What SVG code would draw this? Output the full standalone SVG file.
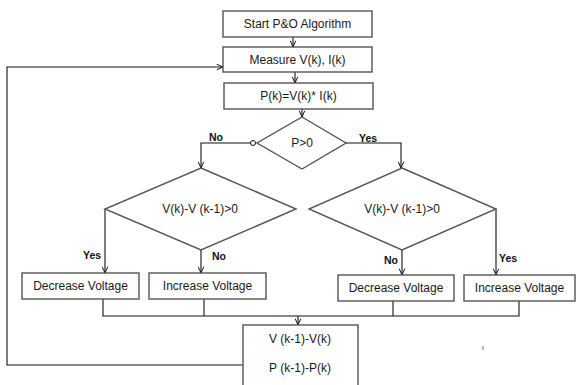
<svg xmlns="http://www.w3.org/2000/svg" width="576" height="385" viewBox="0 0 576 385">
<defs>
<marker id="arr" viewBox="0 0 10 10" refX="10" refY="5" markerWidth="7" markerHeight="7" markerUnits="userSpaceOnUse" orient="auto">
<path d="M1,1 L10,5 L1,9" fill="none" stroke="#111" stroke-width="1.4"/>
</marker>
<style>
.box{fill:#fff;stroke:#555;stroke-width:1.4}
.t{font-family:"Liberation Sans",Arial,sans-serif;font-size:12px;fill:#1a1a1a;text-anchor:middle}
.lb{font-family:"Liberation Sans",Arial,sans-serif;font-size:10.5px;font-weight:bold;fill:#111}
.ln{fill:none;stroke:#111;stroke-width:1.1}
</style>
</defs>
<rect width="576" height="385" fill="#fff"/>
<g id="connectors">
<line class="ln" x1="293" y1="37" x2="293" y2="47" marker-end="url(#arr)"/>
<line class="ln" x1="295" y1="72" x2="295" y2="83" marker-end="url(#arr)"/>
<line class="ln" x1="302" y1="109" x2="302" y2="117" marker-end="url(#arr)"/>
<polyline class="ln" points="251,143 201,143 201,168" marker-end="url(#arr)"/>
<polyline class="ln" points="346,143 401,143 401,168" marker-end="url(#arr)"/>
<line class="ln" x1="105" y1="209" x2="105" y2="273" marker-end="url(#arr)"/>
<line class="ln" x1="201" y1="250" x2="201" y2="273" marker-end="url(#arr)"/>
<line class="ln" x1="402" y1="250" x2="402" y2="275" marker-end="url(#arr)"/>
<line class="ln" x1="496" y1="209" x2="496" y2="275" marker-end="url(#arr)"/>
<polyline class="ln" points="103,299 103,316 519,316 519,301"/>
<line class="ln" x1="204" y1="299" x2="204" y2="316"/>
<line class="ln" x1="393" y1="301" x2="393" y2="316"/>
<line class="ln" x1="298" y1="316" x2="298" y2="325" marker-end="url(#arr)"/>
<polyline class="ln" points="243,365 7,365 7,67 223,67" marker-end="url(#arr)"/>
<circle cx="253" cy="143" r="2.5" fill="#fff" stroke="#111" stroke-width="1"/>
<text class="lb" x="209" y="141">No</text>
<text class="lb" x="359" y="142">Yes</text>
<text class="lb" x="83" y="259">Yes</text>
<text class="lb" x="212" y="260">No</text>
<text class="lb" x="384" y="264">No</text>
<text class="lb" x="499" y="262">Yes</text>
</g>
<g id="start"><rect class="box" x="223" y="11" width="149" height="26"/><text class="t" x="297.5" y="28">Start P&amp;O Algorithm</text></g>
<g id="measure"><rect class="box" x="223" y="47" width="149" height="25"/><text class="t" x="297.5" y="64">Measure V(k), I(k)</text></g>
<g id="power"><rect class="box" x="224" y="83" width="149" height="26"/><text class="t" x="298.5" y="100">P(k)=V(k)* I(k)</text></g>
<g id="pcheck"><polygon class="box" points="302,117 346,143 302,169 257,143"/><text class="t" x="302" y="147">P&gt;0</text></g>
<g id="vcheck-left"><polygon class="box" points="201,168 296,209 201,250 105,209"/><text class="t" x="200" y="213">V(k)-V (k-1)&gt;0</text></g>
<g id="vcheck-right"><polygon class="box" points="402,168 496,209 402,250 309,209"/><text class="t" x="402" y="213">V(k)-V (k-1)&gt;0</text></g>
<g id="dec-left"><rect class="box" x="22" y="273" width="117" height="26"/><text class="t" x="80.5" y="290">Decrease Voltage</text></g>
<g id="inc-left"><rect class="box" x="149" y="273" width="117" height="26"/><text class="t" x="207.5" y="290">Increase Voltage</text></g>
<g id="dec-right"><rect class="box" x="338" y="275" width="116" height="26"/><text class="t" x="396" y="292">Decrease Voltage</text></g>
<g id="inc-right"><rect class="box" x="464" y="275" width="111" height="26"/><text class="t" x="519.5" y="292">Increase Voltage</text></g>
<g id="update"><rect class="box" x="243" y="325" width="115" height="70"/><text class="t" x="300" y="343">V (k-1)-V(k)</text><text class="t" x="300" y="372">P (k-1)-P(k)</text></g>
<line x1="483" y1="346" x2="483" y2="350" stroke="#777" stroke-width="1"/>
</svg>
